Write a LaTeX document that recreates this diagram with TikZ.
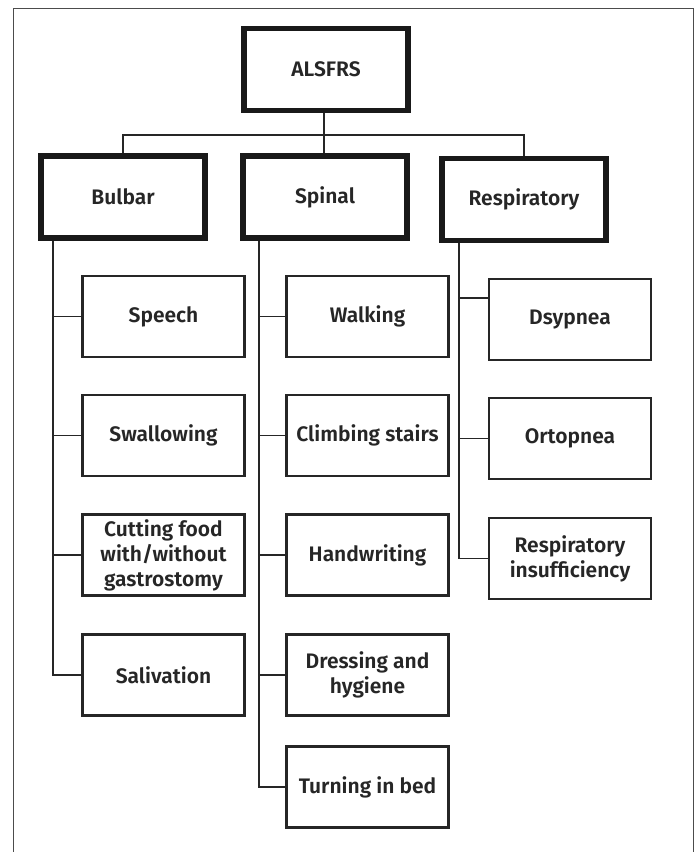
\documentclass[tikz,border=0pt]{standalone}
\usepackage{fontspec}
\newfontfamily\labfont{Fira Sans SemiBold}
\begin{document}
\begin{tikzpicture}[x=1pt,y=-1pt,
  top/.style={draw=black!90, line width=5.5pt, minimum width=164pt, minimum height=82pt, inner sep=0pt, align=center, font=\labfont\fontsize{21}{25}\selectfont, text=black!85},
  leaf/.style={draw=black!85, line width=2.6pt, minimum width=162pt, minimum height=81pt, inner sep=0pt, align=center, font=\labfont\fontsize{21}{25}\selectfont, text=black!85},
  conn/.style={draw=black!85, line width=1.3pt},
  frame/.style={draw=black!70, line width=1pt}]
\useasboundingbox (0,0) rectangle (696,852);
\fill[white] (0,0) rectangle (696,852);
\draw[frame] (13,852) -- (13,8) -- (693,8) -- (693,852);

\node[top] (root) at (326,69.5) {ALSFRS};
\node[top] (bulbar) at (123,197) {Bulbar};
\node[top] (spinal) at (325,197) {Spinal};
\node[top] (resp) at (524,199.5) {Respiratory};

\node[leaf] (speech) at (163.5,316.5) {Speech};
\node[leaf] (swallow) at (163.5,435.5) {Swallowing};
\node[leaf] (cutting) at (163.5,555) {Cutting food\\with/without\\gastrostomy};
\node[leaf] (saliv) at (163.5,675) {Salivation};

\node[leaf] (walk) at (367.5,316.5) {Walking};
\node[leaf] (climb) at (367.5,435.5) {Climbing stairs};
\node[leaf] (hand) at (367.5,555) {Handwriting};
\node[leaf] (dress) at (367.5,675) {Dressing and\\hygiene};
\node[leaf] (turn) at (367.5,787) {Turning in bed};

\node[leaf] (dysp) at (570,319.5) {Dsypnea};
\node[leaf] (orto) at (570,438.5) {Ortopnea};
\node[leaf] (insuf) at (570,558.5) {Respiratory\\insufficiency};

\coordinate (hbar) at (324,135);
\draw[conn] (root.south -| hbar) -- (spinal.north -| hbar);
\draw[conn] (bulbar.north) |- (hbar) -| (resp.north);

\coordinate (bx) at (53,241);
\coordinate (sx) at (259,241);
\coordinate (rx) at (459,243);
\draw[conn] (bulbar.south -| bx) |- (saliv.west);
\draw[conn] (speech.west) -- (speech.west -| bx);
\draw[conn] (swallow.west) -- (swallow.west -| bx);
\draw[conn] (cutting.west) -- (cutting.west -| bx);

\draw[conn] (spinal.south -| sx) |- (turn.west);
\draw[conn] (walk.west) -- (walk.west -| sx);
\draw[conn] (climb.west) -- (climb.west -| sx);
\draw[conn] (hand.west) -- (hand.west -| sx);
\draw[conn] (dress.west) -- (dress.west -| sx);

\draw[conn] (resp.south -| rx) |- (insuf.west);
\draw[conn] ([yshift=21.5pt]dysp.west) -- ([yshift=21.5pt]dysp.west -| rx);
\draw[conn] (orto.west) -- (orto.west -| rx);
\end{tikzpicture}
\end{document}
